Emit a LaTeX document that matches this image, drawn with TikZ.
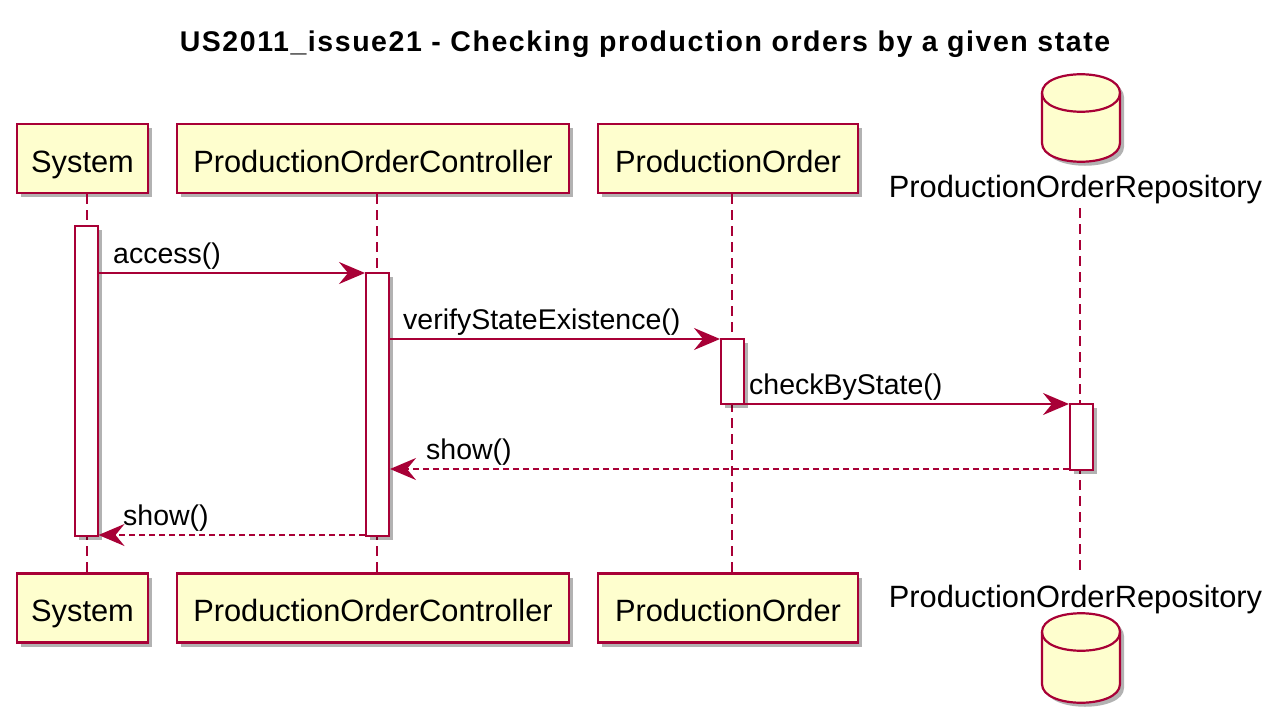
\documentclass[tikz,border=0pt]{standalone}
\usepackage{fontspec}
\setmainfont{Liberation Sans}
\newfontfamily\titlefont[LetterSpace=5.5]{Liberation Sans}
\usetikzlibrary{arrows.meta,shadows}
\definecolor{pborder}{HTML}{A80036}
\definecolor{pfill}{HTML}{FEFECE}
\begin{document}
\begin{tikzpicture}[x=1pt,y=-1pt,
  shad/.style={drop shadow={shadow xshift=4pt, shadow yshift=-4pt, fill=black, opacity=0.3}},
  part/.style={draw=pborder, fill=pfill, line width=2.2pt, minimum height=69pt, inner sep=0pt,
    text height=27pt, text depth=0pt, font=\fontsize{30.8}{36}\selectfont, shad},
  actbar/.style={draw=pborder, fill=white, line width=2pt, minimum width=23pt, inner sep=0pt, shad},
  life/.style={draw=pborder, line width=2pt, dash pattern=on 10pt off 6pt},
  msg/.style={draw=pborder, line width=2pt, -{Stealth[length=26pt, width=22pt, inset=9pt, fill=pborder]}},
  ret/.style={msg, dash pattern=on 6pt off 4pt},
  mlabel/.style={anchor=base west, inner sep=0pt, font=\fontsize{28.5}{34}\selectfont},
  dblabel/.style={anchor=base, inner sep=0pt, font=\fontsize{30.8}{36}\selectfont},
  db/.style={draw=pborder, fill=pfill, line width=2.2pt},
  dbshadow/.style={fill=black, opacity=0.3}
]
\useasboundingbox (0,0) rectangle (1286,726);

% title
\node[anchor=base, inner sep=0pt, font=\titlefont\fontsize{28.5}{34}\selectfont\bfseries] (title) at (645,51) {US2011\_issue21 - Checking production orders by a given state};

% participants top
\node[part, minimum width=131pt] (sysT) at (82.5,158.5) {System};
\node[part, minimum width=392pt] (ctlT) at (373,158.5) {ProductionOrderController};
\node[part, minimum width=260pt] (poT) at (728,158.5) {ProductionOrder};
% participants bottom
\node[part, minimum width=131pt] (sysB) at (82.5,608) {System};
\node[part, minimum width=392pt] (ctlB) at (373,608) {ProductionOrderController};
\node[part, minimum width=260pt] (poB) at (728,608) {ProductionOrder};

% database top
\fill[dbshadow] (1046,97) .. controls (1046,72) and (1124,72) .. (1124,97) -- (1124,147) .. controls (1124,172) and (1046,172) .. (1046,147) -- cycle;
\draw[db] (1042,93) .. controls (1042,68) and (1120,68) .. (1120,93) -- (1120,143) .. controls (1120,168) and (1042,168) .. (1042,143) -- cycle;
\draw[db, fill=none] (1042,93) .. controls (1042,118) and (1120,118) .. (1120,93);
\node[dblabel] (repoT) at (1075.5,197) {ProductionOrderRepository};
% database bottom
\node[dblabel] (repoB) at (1075.5,607) {ProductionOrderRepository};
\fill[dbshadow] (1046,636) .. controls (1046,611) and (1124,611) .. (1124,636) -- (1124,688) .. controls (1124,713) and (1046,713) .. (1046,688) -- cycle;
\draw[db] (1042,632) .. controls (1042,607) and (1120,607) .. (1120,632) -- (1120,684) .. controls (1120,709) and (1042,709) .. (1042,684) -- cycle;
\draw[db, fill=none] (1042,632) .. controls (1042,657) and (1120,657) .. (1120,632);

% lifelines
\draw[life] ([xshift=4pt]sysT.south) -- ([xshift=4pt]sysB.north);
\draw[life] ([xshift=3.5pt]ctlT.south) -- ([xshift=3.5pt]ctlB.north);
\draw[life] ([xshift=4pt]poT.south) -- ([xshift=4pt]poB.north);
\coordinate (repoL1) at (1080,208);
\coordinate (repoL2) at (1080,576);
\draw[life] (repoL1) -- (repoL2);

% activation bars
\node[actbar, minimum height=310pt] (sysAct) at (86,381) {};
\node[actbar, minimum height=263pt] (ctlAct) at (377.5,404.5) {};
\node[actbar, minimum height=65pt] (poAct) at (732.5,371.5) {};
\node[actbar, minimum height=66pt] (repoAct) at (1081.5,437) {};

% message end points
\coordinate (m1a) at (sysAct.east |- 0,273);
\coordinate (m1b) at (ctlAct.west |- 0,273);
\coordinate (m2a) at (ctlAct.east |- 0,339);
\coordinate (m2b) at (poAct.west |- 0,339);
\coordinate (m3a) at (poAct.east |- 0,404);
\coordinate (m3b) at (repoAct.west |- 0,404);
\coordinate (m4a) at (repoAct.west |- 0,469);
\coordinate (m4b) at (ctlAct.east |- 0,469);
\coordinate (m5a) at (ctlAct.west |- 0,535);
\coordinate (m5b) at (sysAct.east |- 0,535);

\draw[msg] (m1a) -- (m1b);
\draw[msg] (m2a) -- (m2b);
\draw[msg] (m3a) -- (m3b);
\draw[ret] (m4a) -- (m4b);
\draw[ret] (m5a) -- (m5b);

\node[mlabel] (l1) at (113,263.5) {access()};
\node[mlabel] (l2) at (403,329.5) {verifyStateExistence()};
\node[mlabel] (l3) at (749,394.5) {checkByState()};
\node[mlabel] (l4) at (426,459.5) {show()};
\node[mlabel] (l5) at (123,525.5) {show()};
\end{tikzpicture}
\end{document}
